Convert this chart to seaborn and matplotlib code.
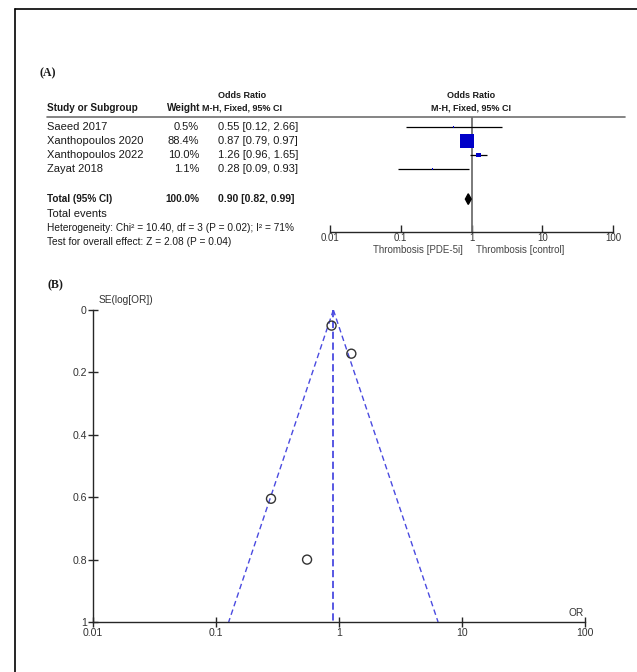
"""
Forest plot (A) and funnel plot (B) for PDE-5i and thrombosis.
"""

import numpy as np
import matplotlib
matplotlib.use("Agg")
import matplotlib.pyplot as plt
import matplotlib.transforms as mtransforms
from matplotlib.lines import Line2D
from matplotlib.patches import Polygon
import seaborn as sns
import pandas as pd

# --------------------------------------------------------
# Data
# --------------------------------------------------------

studies = ["Saeed 2017", "Xanthopoulos 2020", "Xanthopoulos 2022", "Zayat 2018"]
weights = [0.5, 88.4, 10.0, 1.1]
odds_ratio = [0.55, 0.87, 1.26, 0.28]
ci_low = [0.12, 0.79, 0.96, 0.09]
ci_high = [2.66, 0.97, 1.65, 0.93]

pooled_or = 0.90
pooled_low = 0.82
pooled_high = 0.99

# standard errors of log(OR)
se_log_or = [0.80, 0.05, 0.14, 0.605]

or_ticks = [0.01, 0.1, 1, 10, 100]
or_tick_labels = ["0.01", "0.1", "1", "10", "100"]
se_ticks = [0, 0.2, 0.4, 0.6, 0.8, 1]
se_tick_labels = ["0", "0.2", "0.4", "0.6", "0.8", "1"]

# --------------------------------------------------------
# Settings
# --------------------------------------------------------

sns.set_style("ticks")
plt.rcParams["font.family"] = ["Liberation Sans", "DejaVu Sans"]

W, H = 637, 672
TXT = "#1a1a1a"
FS = 7.6

fig = plt.figure(figsize=(W / 100, H / 100), dpi=100)


def fx(x):
    return x / W


def fy(y):
    return 1 - y / H


def box(left, top, right, bottom):
    return [fx(left), fy(bottom), fx(right) - fx(left), fy(top) - fy(bottom)]


# frame
fig.add_artist(Line2D([fx(15), fx(15)], [fy(9), 0], color="black", lw=1.2))
fig.add_artist(Line2D([fx(15), 1], [fy(9), fy(9)], color="black", lw=1.2))

# --------------------------------------------------------
# (A) forest plot
# --------------------------------------------------------

fig.text(fx(40), fy(73), "(A)", family="Liberation Serif", weight="bold",
         fontsize=8.5, va="center", color=TXT)

ax = fig.add_axes(box(330, 117, 613, 232))
ax.set_xscale("log")
ax.set_xlim(0.01, 100)
ax.set_ylim(7.5, -0.714)

rows = np.arange(len(studies))
side_px = 14 * np.sqrt(np.array(weights) / max(weights))

ax.hlines(rows, ci_low, ci_high, color="black", lw=0.9, zorder=2)
forest_df = pd.DataFrame({"or": odds_ratio, "row": rows, "size": (side_px * 0.72) ** 2})
ax.scatter(forest_df["or"], forest_df["row"], s=forest_df["size"], marker="s",
           color="#0000c8", linewidths=0, zorder=3)

total_row = 5.15
ax.add_patch(Polygon([[pooled_low, total_row], [pooled_or, total_row - 0.38],
                      [pooled_high, total_row], [pooled_or, total_row + 0.38]],
                     closed=True, color="black", zorder=3))
ax.axvline(1, color="#707070", lw=1.3, zorder=1)

for side in ["top", "right", "left"]:
    ax.spines[side].set_visible(False)
ax.spines["bottom"].set_linewidth(1.0)
ax.set_yticks([])
ax.set_xticks(or_ticks)
ax.set_xticklabels(or_tick_labels)
ax.minorticks_off()
ax.tick_params(axis="x", direction="in", length=5, width=1.0, labelsize=7.0,
               labelcolor="#333333", pad=1)

rowtr = mtransforms.blended_transform_factory(fig.transFigure, ax.transData)

for i, name in enumerate(studies):
    ax.text(fx(47), i, name, transform=rowtr, fontsize=FS + 0.4, va="center", color=TXT)
    ax.text(fx(199), i, f"{weights[i]:.1f}%", transform=rowtr, fontsize=FS + 0.4,
            va="center", ha="right", color=TXT)
    ax.text(fx(218), i, f"{odds_ratio[i]:.2f} [{ci_low[i]:.2f}, {ci_high[i]:.2f}]",
            transform=rowtr, fontsize=FS + 0.4, va="center", color=TXT)

ax.text(fx(47), total_row, "Total (95% CI)", transform=rowtr, fontsize=FS - 0.4,
        weight="bold", va="center", color=TXT)
ax.text(fx(199), total_row, "100.0%", transform=rowtr, fontsize=FS - 0.4,
        weight="bold", va="center", ha="right", color=TXT)
ax.text(fx(218), total_row, f"{pooled_or:.2f} [{pooled_low:.2f}, {pooled_high:.2f}]",
        transform=rowtr, fontsize=FS - 0.1, weight="bold", va="center", color=TXT)

HDR = 6.5
fig.text(fx(242), fy(95), "Odds Ratio", fontsize=HDR, weight="bold",
         ha="center", va="center", color=TXT)
fig.text(fx(242), fy(108), "M-H, Fixed, 95% CI", fontsize=HDR, weight="bold",
         ha="center", va="center", color=TXT)
fig.text(fx(471), fy(95), "Odds Ratio", fontsize=HDR, weight="bold",
         ha="center", va="center", color=TXT)
fig.text(fx(471), fy(108), "M-H, Fixed, 95% CI", fontsize=HDR, weight="bold",
         ha="center", va="center", color=TXT)
fig.text(fx(47), fy(108), "Study or Subgroup", fontsize=FS - 0.4, weight="bold",
         va="center", color=TXT)
fig.text(fx(200), fy(108), "Weight", fontsize=FS - 0.4, weight="bold",
         ha="right", va="center", color=TXT)
fig.add_artist(Line2D([fx(47), fx(625)], [fy(117), fy(117)], color="#707070", lw=1.2))

fig.text(fx(47), fy(214), "Total events", fontsize=FS + 0.4, va="center", color=TXT)
fig.text(fx(47), fy(228), "Heterogeneity: Chi² = 10.40, df = 3 (P = 0.02); I² = 71%",
         fontsize=FS - 0.3, va="center", color=TXT)
fig.text(fx(47), fy(242), "Test for overall effect: Z = 2.08 (P = 0.04)",
         fontsize=FS - 0.3, va="center", color=TXT)
fig.text(fx(463), fy(250), "Thrombosis [PDE-5i]", fontsize=7.0, ha="right",
         va="center", color="#444444")
fig.text(fx(476), fy(250), "Thrombosis [control]", fontsize=7.0, ha="left",
         va="center", color="#444444")

# --------------------------------------------------------
# (B) funnel plot
# --------------------------------------------------------

fig.text(fx(47), fy(285), "(B)", family="Liberation Serif", weight="bold",
         fontsize=8.5, va="center", color=TXT)

bx = fig.add_axes(box(93, 310, 585, 622))
bx.set_xscale("log")
bx.set_xlim(0.01, 100)
bx.set_ylim(1, 0)

se_range = np.array([se_ticks[0], se_ticks[-1]])
funnel_df = pd.DataFrame({
    "se": np.concatenate([se_range, se_range]),
    "bound": np.concatenate([pooled_or * np.exp(-1.96 * se_range),
                             pooled_or * np.exp(1.96 * se_range)]),
    "side": ["lower", "lower", "upper", "upper"],
})
for _, part in funnel_df.groupby("side"):
    bx.plot(part["bound"], part["se"], color="#4a4ae0", lw=1.0, ls=(0, (4, 2.5)))
bx.plot([pooled_or, pooled_or], se_range, color="#4a4ae0", lw=1.3, ls=(0, (4, 2)))

points_df = pd.DataFrame({"or": odds_ratio, "se": se_log_or})
sns.scatterplot(data=points_df, x="or", y="se", ax=bx, s=42, marker="o",
                facecolor="none", edgecolor="#333333", linewidth=1.0, zorder=4)

sns.despine(ax=bx)
bx.spines["left"].set_linewidth(1.0)
bx.spines["bottom"].set_linewidth(1.0)
bx.set_xticks(or_ticks)
bx.set_xticklabels(or_tick_labels)
bx.minorticks_off()
bx.set_yticks(se_ticks)
bx.set_yticklabels(se_tick_labels)
bx.tick_params(direction="inout", length=7, width=1.0, labelsize=FS,
               labelcolor="#333333", pad=1)
bx.set_xlabel("")
bx.set_ylabel("")

fig.text(fx(99), fy(300), "SE(log[OR])", fontsize=FS - 0.3, va="center", color="#333333")
fig.text(fx(576), fy(613), "OR", fontsize=FS - 0.3, ha="center", va="center",
         color="#333333")

plt.savefig("out.png", dpi=100)
plt.close()
